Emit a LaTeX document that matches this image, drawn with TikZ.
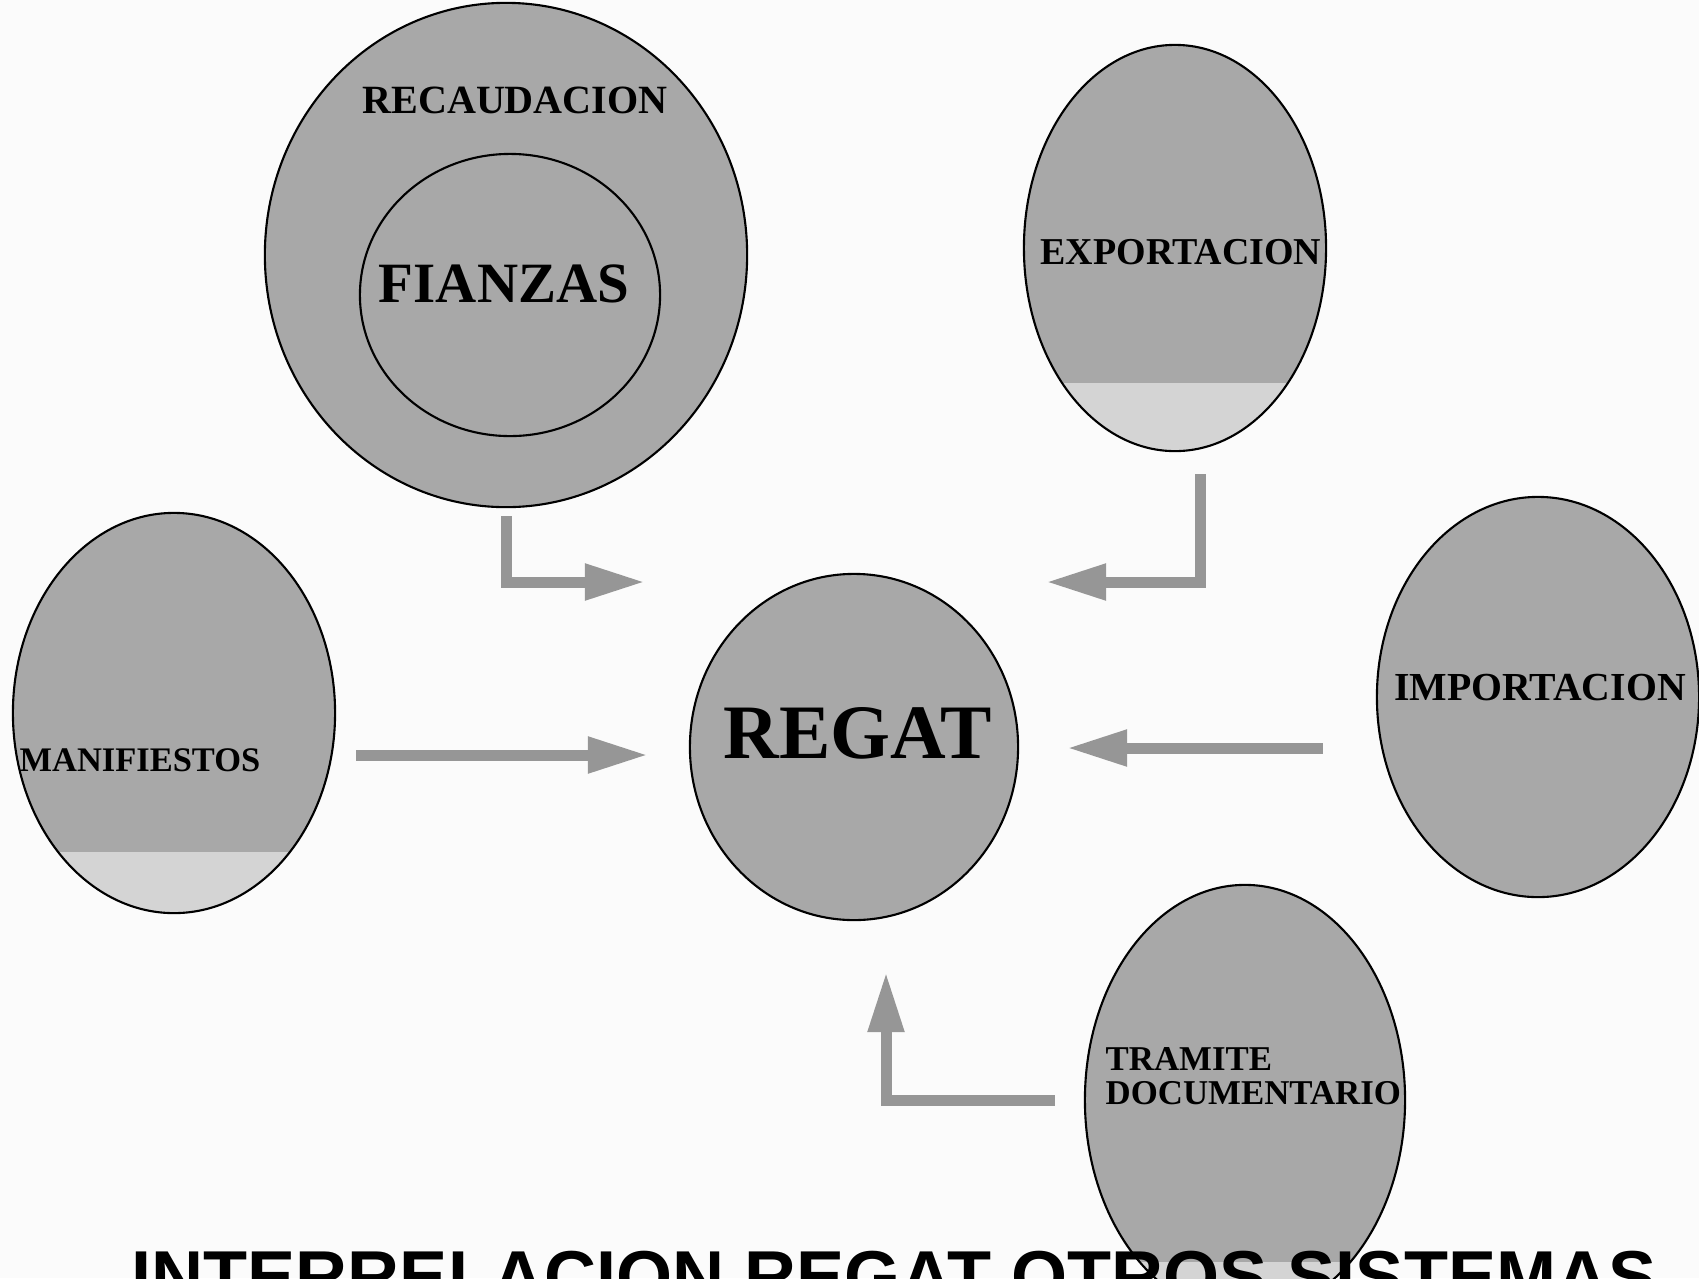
\documentclass[tikz,border=0pt]{standalone}
\usepackage{fontspec}
\setmainfont{Liberation Serif}
\newfontfamily\headfont{Liberation Sans}
\usetikzlibrary{shapes,arrows.meta,positioning}
\definecolor{sysgray}{RGB}{168,168,168}
\definecolor{bandgray}{RGB}{212,212,212}
\definecolor{flowgray}{RGB}{150,150,150}
\tikzstyle{sys} = [ellipse, draw=black, line width=0.6pt, fill=sysgray, inner sep=0pt]
\tikzstyle{band} = [path picture={\fill[bandgray] (path picture bounding box.south west) rectangle ([yshift=#1]path picture bounding box.south east);}]
\tikzstyle{flow} = [line width=0.11cm, color=flowgray, -{Triangle[length=0.6cm,width=0.34cm]}]
\tikzstyle{lbl} = [inner sep=0pt]

\begin{document}
\begin{tikzpicture}[x=0.01cm, y=-0.01cm]
\useasboundingbox (0,0) rectangle (1699,1278);
\clip (0,0) rectangle (1699,1278);
\fill[black!1.5] (0,0) rectangle (1699,1278);

% Systems
\node[sys, minimum width=4.82cm, minimum height=5.04cm] (rec) at (506,255) {};
\node[sys, minimum width=3.00cm, minimum height=2.82cm] (fin) at (510,295) {};
\node[sys, band=0.68cm, minimum width=3.02cm, minimum height=4.06cm] (exp) at (1175,248) {};
\node[sys, band=0.61cm, minimum width=3.22cm, minimum height=4.00cm] (man) at (174,713) {};
\node[sys, minimum width=3.28cm, minimum height=3.46cm] (regat) at (854,747) {};
\node[sys, minimum width=3.22cm, minimum height=4.00cm] (imp) at (1538,697) {};
\node[sys, band=0.53cm, minimum width=3.20cm, minimum height=4.30cm] (tra) at (1245,1100) {};

% Labels
\node[lbl, font=\bfseries\fontsize{11.4}{12}\selectfont] (reclbl) at (515,100) {RECAUDACION};
\node[lbl, font=\bfseries\fontsize{16.2}{18}\selectfont] (finlbl) at (504,284) {FIANZAS};
\node[lbl, font=\bfseries\fontsize{10.8}{12}\selectfont] (explbl) at (1181,252) {EXPORTACION};
\node[lbl, font=\bfseries\fontsize{9.8}{11}\selectfont] (manlbl) at (140,760) {MANIFIESTOS};
\node[lbl, font=\bfseries\fontsize{21.9}{24}\selectfont] (regatlbl) at (858,733) {REGAT};
\node[lbl, font=\bfseries\fontsize{11.3}{12}\selectfont] (implbl) at (1540,688) {IMPORTACION};
\node[lbl, anchor=west, align=left, font=\bfseries\fontsize{9.9}{9.7}\selectfont] (tralbl) at (1105,1076) {TRAMITE\\DOCUMENTARIO};

% Flows into REGAT
\coordinate (tipA) at (645,582);
\coordinate (tipB) at (1046,582);
\coordinate (tipC) at (648,755);
\coordinate (tipD) at (1067,748);
\coordinate (tipE) at (886,972);
\draw[flow, shorten <=0.08cm] (rec.south) |- (tipA);
\draw[flow, shorten <=0.22cm] ([xshift=0.25cm]exp.south) |- (tipB);
\draw[flow, shorten <=0.2cm] (man.east |- tipC) -- (tipC);
\draw[flow, shorten <=0.53cm] (imp.west |- tipD) -- (tipD);
\draw[flow, shorten <=0.29cm] (tra.west) -| (tipE);

% Title
\node[lbl, anchor=north, font=\headfont\bfseries\fontsize{20.5}{22}\selectfont] (title) at (894,1250) {INTERRELACION REGAT OTROS SISTEMAS};
\end{tikzpicture}
\end{document}
